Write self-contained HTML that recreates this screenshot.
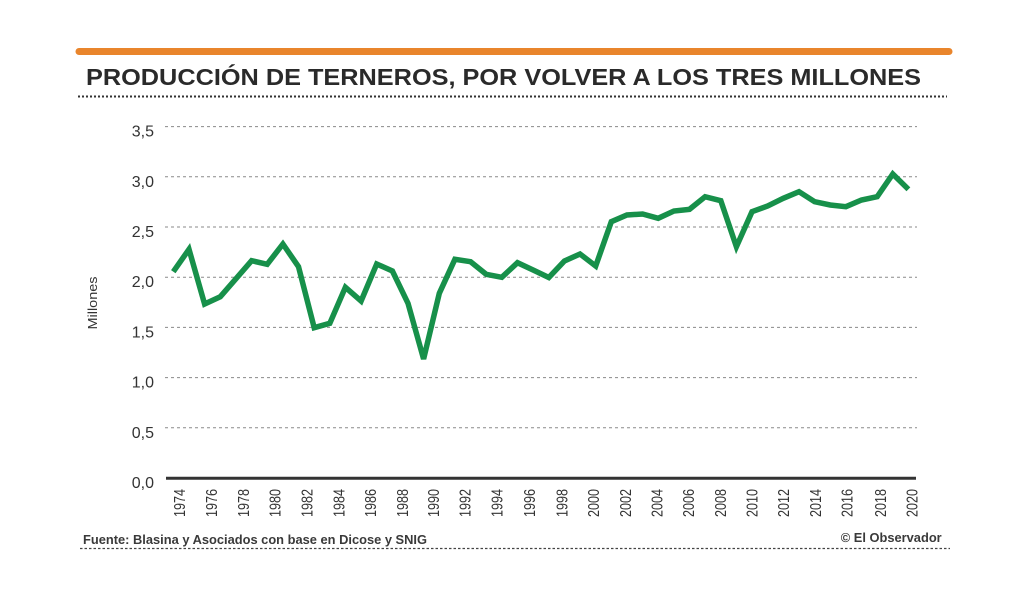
<!DOCTYPE html>
<html>
<head>
<meta charset="utf-8">
<style>
html,body{margin:0;padding:0;background:#fff;}
svg{display:block;}
</style>
</head>
<body>
<svg width="1024" height="597" viewBox="0 0 1024 597" xmlns="http://www.w3.org/2000/svg" font-family="'Liberation Sans', sans-serif">
  <rect x="0" y="0" width="1024" height="597" fill="#fff"/>
  <!-- orange bar -->
  <line x1="79" y1="51.5" x2="949" y2="51.5" stroke="#e9852c" stroke-width="7" stroke-linecap="round"/>
  <!-- title -->
  <text x="86" y="85" font-size="23" font-weight="bold" fill="#2a2a2a" textLength="835" lengthAdjust="spacingAndGlyphs">PRODUCCIÓN DE TERNEROS, POR VOLVER A LOS TRES MILLONES</text>
  <line x1="78" y1="96.5" x2="947" y2="96.5" stroke="#333" stroke-width="2" stroke-dasharray="2 2"/>

  <!-- gridlines -->
  <g stroke="#8a8a8a" stroke-width="1" stroke-dasharray="3 3">
    <line x1="165" y1="126.6" x2="917" y2="126.6"/>
    <line x1="165" y1="176.8" x2="917" y2="176.8"/>
    <line x1="165" y1="227" x2="917" y2="227"/>
    <line x1="165" y1="277.2" x2="917" y2="277.2"/>
    <line x1="165" y1="327.4" x2="917" y2="327.4"/>
    <line x1="165" y1="377.6" x2="917" y2="377.6"/>
    <line x1="165" y1="427.8" x2="917" y2="427.8"/>
  </g>
  <!-- axis -->
  <line x1="166" y1="478.3" x2="916" y2="478.3" stroke="#333" stroke-width="3"/>

  <!-- y labels -->
  <g font-size="16" fill="#333" text-anchor="end">
    <text x="154" y="136.6">3,5</text>
    <text x="154" y="186.8">3,0</text>
    <text x="154" y="237">2,5</text>
    <text x="154" y="287.2">2,0</text>
    <text x="154" y="337.4">1,5</text>
    <text x="154" y="387.6">1,0</text>
    <text x="154" y="437.8">0,5</text>
    <text x="154" y="488">0,0</text>
  </g>
  <text transform="translate(97,303) rotate(-90)" text-anchor="middle" font-size="13" fill="#333" textLength="53" lengthAdjust="spacingAndGlyphs">Millones</text>

  <!-- x labels -->
  <g font-size="16" fill="#333" text-anchor="end">
    <text transform="translate(179.3,489) rotate(-90)" dy="0.36em" textLength="28" lengthAdjust="spacingAndGlyphs">1974</text>
    <text transform="translate(211.1,489) rotate(-90)" dy="0.36em" textLength="28" lengthAdjust="spacingAndGlyphs">1976</text>
    <text transform="translate(243,489) rotate(-90)" dy="0.36em" textLength="28" lengthAdjust="spacingAndGlyphs">1978</text>
    <text transform="translate(274.8,489) rotate(-90)" dy="0.36em" textLength="28" lengthAdjust="spacingAndGlyphs">1980</text>
    <text transform="translate(306.7,489) rotate(-90)" dy="0.36em" textLength="28" lengthAdjust="spacingAndGlyphs">1982</text>
    <text transform="translate(338.5,489) rotate(-90)" dy="0.36em" textLength="28" lengthAdjust="spacingAndGlyphs">1984</text>
    <text transform="translate(370.3,489) rotate(-90)" dy="0.36em" textLength="28" lengthAdjust="spacingAndGlyphs">1986</text>
    <text transform="translate(402.2,489) rotate(-90)" dy="0.36em" textLength="28" lengthAdjust="spacingAndGlyphs">1988</text>
    <text transform="translate(433,489) rotate(-90)" dy="0.36em" textLength="28" lengthAdjust="spacingAndGlyphs">1990</text>
    <text transform="translate(464.5,489) rotate(-90)" dy="0.36em" textLength="28" lengthAdjust="spacingAndGlyphs">1992</text>
    <text transform="translate(496.5,489) rotate(-90)" dy="0.36em" textLength="28" lengthAdjust="spacingAndGlyphs">1994</text>
    <text transform="translate(529.4,489) rotate(-90)" dy="0.36em" textLength="28" lengthAdjust="spacingAndGlyphs">1996</text>
    <text transform="translate(561.5,489) rotate(-90)" dy="0.36em" textLength="28" lengthAdjust="spacingAndGlyphs">1998</text>
    <text transform="translate(593.3,489) rotate(-90)" dy="0.36em" textLength="28" lengthAdjust="spacingAndGlyphs">2000</text>
    <text transform="translate(625,489) rotate(-90)" dy="0.36em" textLength="28" lengthAdjust="spacingAndGlyphs">2002</text>
    <text transform="translate(656.7,489) rotate(-90)" dy="0.36em" textLength="28" lengthAdjust="spacingAndGlyphs">2004</text>
    <text transform="translate(688.3,489) rotate(-90)" dy="0.36em" textLength="28" lengthAdjust="spacingAndGlyphs">2006</text>
    <text transform="translate(720,489) rotate(-90)" dy="0.36em" textLength="28" lengthAdjust="spacingAndGlyphs">2008</text>
    <text transform="translate(751.7,489) rotate(-90)" dy="0.36em" textLength="28" lengthAdjust="spacingAndGlyphs">2010</text>
    <text transform="translate(783.3,489) rotate(-90)" dy="0.36em" textLength="28" lengthAdjust="spacingAndGlyphs">2012</text>
    <text transform="translate(815,489) rotate(-90)" dy="0.36em" textLength="28" lengthAdjust="spacingAndGlyphs">2014</text>
    <text transform="translate(846.7,489) rotate(-90)" dy="0.36em" textLength="28" lengthAdjust="spacingAndGlyphs">2016</text>
    <text transform="translate(880,489) rotate(-90)" dy="0.36em" textLength="28" lengthAdjust="spacingAndGlyphs">2018</text>
    <text transform="translate(911.7,489) rotate(-90)" dy="0.36em" textLength="28" lengthAdjust="spacingAndGlyphs">2020</text>
  </g>

  <!-- series -->
  <polyline fill="none" stroke="#17904a" stroke-width="5.5" stroke-linejoin="miter" stroke-miterlimit="3" stroke-linecap="butt"
    points="173.3,271.7 189,249.3 204.6,304 220.3,296.7 236,278.7 251.6,260.7 267.2,264.3 282.9,244 298.5,266.7 314.2,327.7 329.8,323.3 345.4,287.3 361.1,301 376.7,264 392.4,271 408,303.3 423.6,359 439.3,293.3 454.9,259.3 470.6,261.7 486.2,274.3 501.8,277.3 517.5,262.7 533.1,270 548.8,277.5 564.4,261 580,254 595.7,266 611.3,221.7 626.9,215 642.6,214 658.2,218.3 673.9,211 689.5,209.3 705.1,196.7 720.8,200.7 736.4,246.7 752,211.7 767.7,206 783.3,198.3 799,191.7 814.6,201.7 830.2,205 845.9,206.7 861.5,200 877.2,196.7 892.8,174 908.4,189.3"/>

  <!-- footer -->
  <text x="83" y="544" font-size="13" font-weight="bold" fill="#3a3a3a" textLength="344" lengthAdjust="spacingAndGlyphs">Fuente: Blasina y Asociados con base en  Dicose y SNIG</text>
  <text x="941.7" y="542" font-size="13" font-weight="bold" fill="#3a3a3a" text-anchor="end" textLength="101" lengthAdjust="spacingAndGlyphs">© El Observador</text>
  <line x1="80" y1="548.5" x2="950" y2="548.5" stroke="#444" stroke-width="1.3" stroke-dasharray="2.5 2"/>
</svg>
</body>
</html>
